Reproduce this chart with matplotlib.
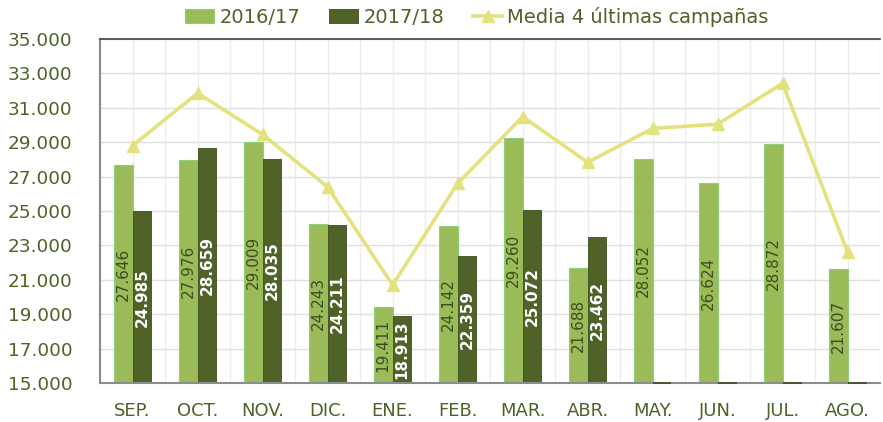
import numpy as np
import matplotlib.pyplot as plt
from matplotlib.ticker import FuncFormatter, MultipleLocator

meses = ['SEP.', 'OCT.', 'NOV.', 'DIC.', 'ENE.', 'FEB.', 'MAR.', 'ABR.',
         'MAY.', 'JUN.', 'JUL.', 'AGO.']
c1617 = [27646, 27976, 29009, 24243, 19411, 24142, 29260, 21688,
         28052, 26624, 28872, 21607]
c1718 = [24985, 28659, 28035, 24211, 18913, 22359, 25072, 23462,
         np.nan, np.nan, np.nan, np.nan]
media = [28800, 31850, 29450, 26400, 20700, 26600, 30480, 27830,
         29800, 30050, 32420, 22600]
y_ticks = list(range(15000, 35001, 2000))

verde_claro = '#9BBB59'
verde_osc = '#4F6228'
amarillo = '#E3E27D'
texto = '#4F6228'

fig = plt.figure(figsize=(8.83, 4.22), dpi=100)
ax = fig.add_axes([0.1133, 0.0924, 0.8835, 0.8152])

x = np.arange(len(meses))
w = 0.29
base = 15000
v1 = np.array(c1617, dtype=float)
v2 = np.array(c1718, dtype=float)

b1 = ax.bar(x - w / 2, v1 - base, w, bottom=base, color=verde_claro,
            edgecolor='#8ED07A', linewidth=0.8, label='2016/17', zorder=2)
falta = np.isnan(v2)
b2 = ax.bar(x[~falta] + w / 2, v2[~falta] - base, w, bottom=base, color=verde_osc,
            edgecolor='#3E4D20', linewidth=0.6, label='2017/18', zorder=2)
# meses sin dato en 2017/18: solo queda una raya en la base
ax.bar(x[falta] + w / 2, 0, w, bottom=base, color=verde_osc,
       edgecolor='#3E4D20', linewidth=1.2, zorder=4, clip_on=False)
ax.plot(x, media, color=amarillo, lw=2.6, marker='^', markersize=8,
        label='Media 4 últimas campañas', zorder=3)

fmt = lambda v: f'{v:,.0f}'.replace(',', '.')
for xi, v in zip(x, v1):
    ax.text(xi - w / 2, (base + v) / 2, fmt(v), rotation=90, ha='center',
            va='center', fontsize=11, color='#3E4D20', zorder=4)
for xi, v in zip(x, v2):
    if not np.isnan(v):
        ax.text(xi + w / 2, (base + v) / 2, fmt(v), rotation=90, ha='center',
                va='center', fontsize=11, color='white', fontweight='bold', zorder=4)

ax.set_xlim(-0.5, 11.5)
ax.set_ylim(15000, 35000)
ax.set_yticks(y_ticks)
ax.yaxis.set_major_formatter(FuncFormatter(lambda v, p: fmt(v)))
ax.set_xticks(x)
ax.set_xticklabels(meses)
ax.xaxis.set_minor_locator(MultipleLocator(0.5))
ax.tick_params(axis='both', length=0, colors=texto)
ax.tick_params(axis='y', labelsize=13.3, pad=20)
ax.tick_params(axis='x', labelsize=13, pad=14)
ax.tick_params(axis='x', which='minor', length=0)
ax.grid(axis='y', color='#E0E0E0', lw=1, zorder=0)
ax.grid(axis='x', which='both', color='#EDEDED', lw=1, zorder=0)
ax.set_axisbelow(True)

for s in ['left', 'bottom']:
    ax.spines[s].set_color('#8C8C8C')
    ax.spines[s].set_linewidth(1.5)
ax.spines['top'].set_color('#404040')
ax.spines['top'].set_linewidth(1.2)
ax.spines['right'].set_visible(False)

leg = fig.legend(handles=[b1, b2, ax.lines[0]], loc='upper center',
                 bbox_to_anchor=(0.54, 1.025), ncol=3, frameon=False,
                 fontsize=14, handlelength=1.5, handletextpad=0.25,
                 columnspacing=1.5)
for t in leg.get_texts():
    t.set_color(texto)

fig.savefig('out.png', dpi=100)
